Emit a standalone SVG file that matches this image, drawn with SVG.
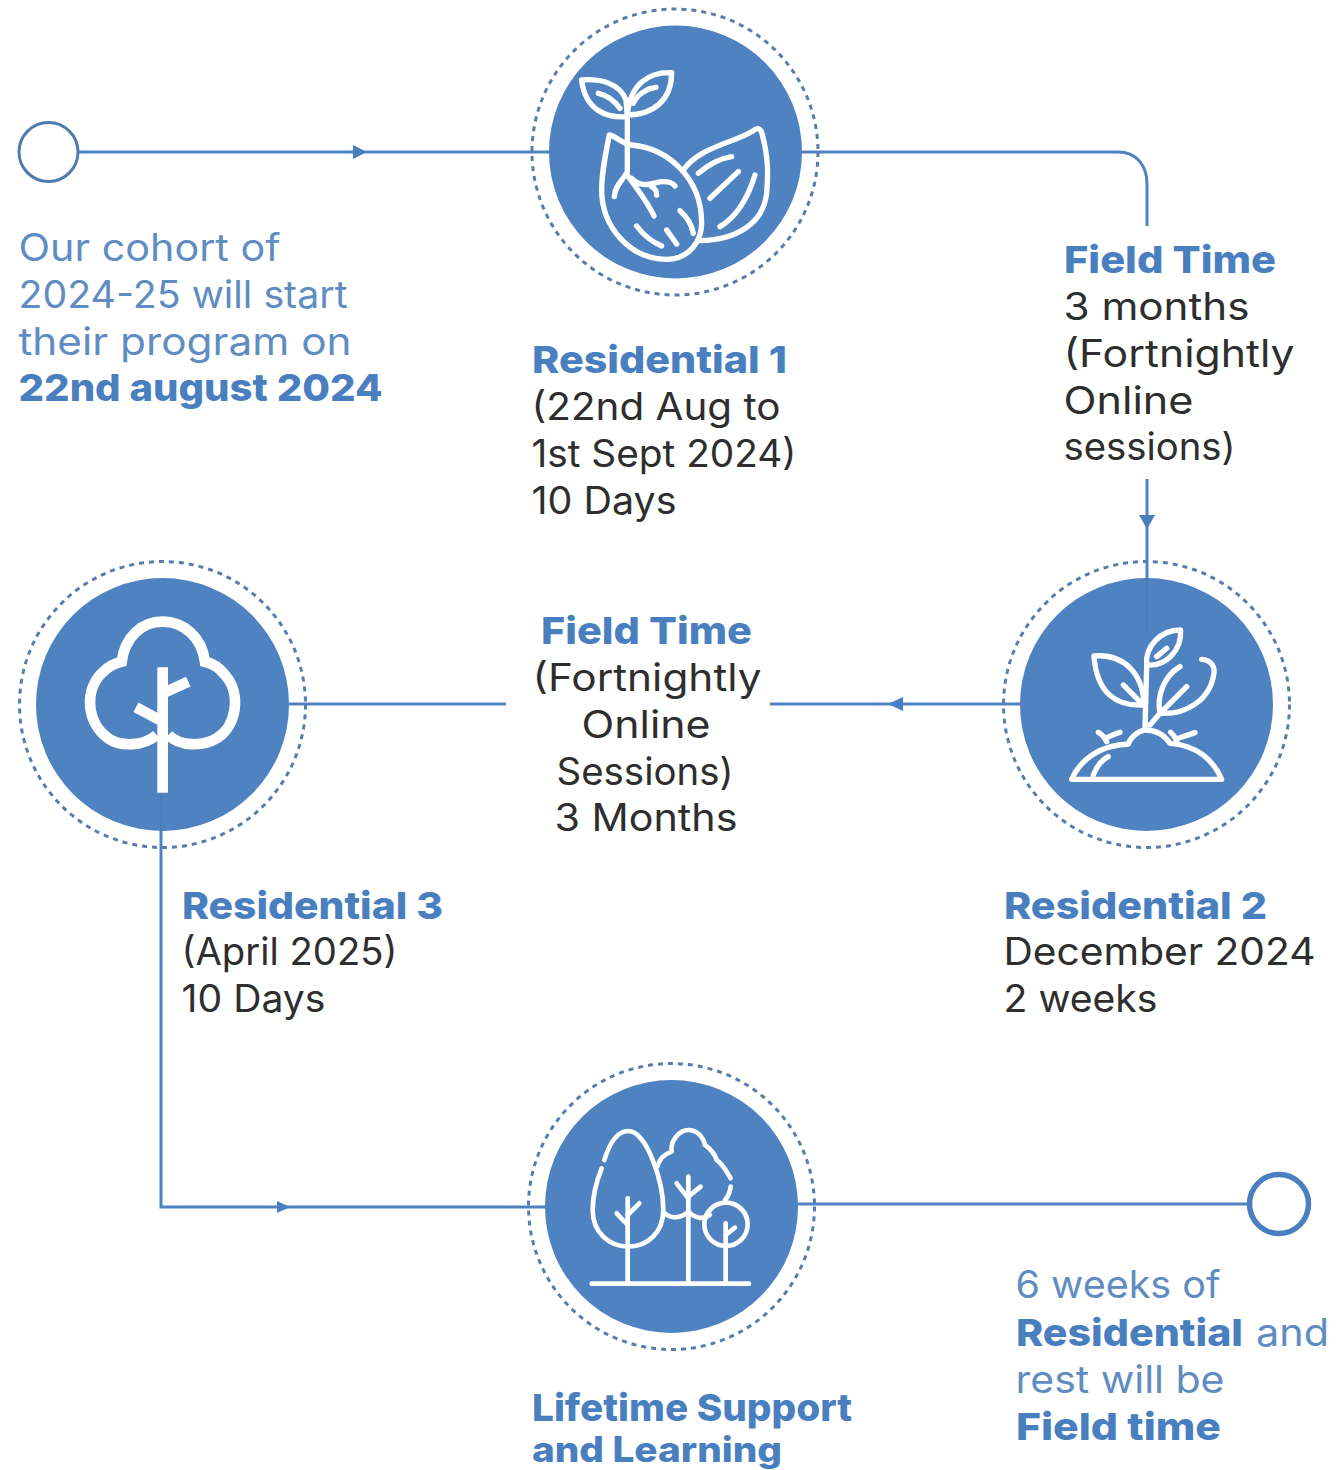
<svg xmlns="http://www.w3.org/2000/svg" width="1336" height="1470" viewBox="0 0 1336 1470">
<style>
text{font-family:"Inter","Noto Sans","Liberation Sans",sans-serif;font-size:37.5px;fill:#2e2e2e;font-weight:400}
.b{font-weight:800;fill:#4a7fbf}
.l{fill:#5f8dc2;font-weight:400}
.disc{fill:#4f82c0}
.ring{fill:none;stroke:#587cab;stroke-width:3;stroke-dasharray:5 5}
.ico{fill:none;stroke:#fff;stroke-width:16;stroke-linecap:round;stroke-linejoin:round}
.ln{fill:none;stroke:#4f82c0;stroke-width:3}
.ah{fill:#4a7fbf}
</style>
<rect width="1336" height="1470" fill="#fff"/>
<g id="start"><circle cx="48.5" cy="152" r="29.5" fill="#fff" stroke="#4f7bb0" stroke-width="3"/>
<text class="l" x="18.5" y="260.5" textLength="262" lengthAdjust="spacingAndGlyphs">Our cohort of</text>
<text class="l" x="18.5" y="307.5" textLength="329" lengthAdjust="spacingAndGlyphs">2024-25 will start</text>
<text class="l" x="18.5" y="354.5" textLength="333" lengthAdjust="spacingAndGlyphs">their program on</text>
<text class="b" x="18.5" y="401" textLength="364" lengthAdjust="spacingAndGlyphs">22nd august 2024</text>
</g>
<g id="residential-1"><circle class="ring" cx="675" cy="152" r="143"/><circle class="disc" cx="675.5" cy="152" r="126.5"/>
<g class="ico" transform="translate(520 0) scale(.3333)">
<path d="M185 240C240 235 300 250 318 300L322 350C260 355 195 330 185 240Z"/><path d="M455 218C390 215 330 250 322 345C400 345 455 300 455 218Z"/><path d="M235 280C260 285 285 305 300 325M408 262C380 265 350 285 340 310M322 345V510M322 515C310 540 285 555 283 590M322 525C345 560 380 600 402 648M335 535C370 570 400 545 430 545C445 545 460 550 465 558M395 560C405 565 410 575 410 585"/>
<path d="M268 405C255 470 245 520 245 570C245 680 330 778 440 778C510 778 545 720 545 670C545 530 440 445 335 435C300 430 285 405 268 405Z"/>
<path d="M350 678C370 705 395 725 425 738M440 690L470 732M480 632C500 650 515 670 520 700"/>
<path d="M490 510C540 440 640 430 700 392C712 382 722 385 726 400C745 470 745 520 740 580C730 670 650 720 540 722M535 520C565 495 600 475 635 470M570 595L655 515M600 680C650 650 685 590 705 525"/>
</g>
<text class="b" x="532" y="372.5" textLength="255" lengthAdjust="spacingAndGlyphs">Residential 1</text>
<text x="531.5" y="419.5" textLength="249" lengthAdjust="spacingAndGlyphs">(22nd Aug to</text>
<text x="531.5" y="466.5" textLength="265" lengthAdjust="spacingAndGlyphs">1st Sept 2024)</text>
<text x="531.5" y="513.5" textLength="145" lengthAdjust="spacingAndGlyphs">10 Days</text>
</g>
<g id="field-time-1">
<text class="b" x="1064" y="272.5" textLength="212" lengthAdjust="spacingAndGlyphs">Field Time</text>
<text x="1063.5" y="319.5" textLength="186" lengthAdjust="spacingAndGlyphs">3 months</text>
<text x="1063.5" y="366.5" textLength="231" lengthAdjust="spacingAndGlyphs">(Fortnightly</text>
<text x="1063.5" y="413.5" textLength="130" lengthAdjust="spacingAndGlyphs">Online</text>
<text x="1063.5" y="460" textLength="172" lengthAdjust="spacingAndGlyphs">sessions)</text>
</g>
<g id="residential-2"><circle class="ring" cx="1146.5" cy="704.5" r="143"/><circle class="disc" cx="1146.5" cy="704.5" r="126.5"/>
<g class="ico" transform="translate(990 550) scale(.3333)">
<path d="M245 688H695C670 630 620 585 540 580C520 550 490 540 465 540C440 545 420 565 415 582C330 585 270 630 245 688Z"/><path d="M310 675C320 650 335 630 355 620M350 575C345 565 335 552 325 547M345 565C360 560 375 550 390 547M560 572C555 560 548 552 542 547M565 565L615 548"/>
<path d="M465 535L470 350"/><path d="M470 345C465 290 510 240 572 240C575 300 530 350 470 345Z"/><path d="M500 320L530 295"/>
<path d="M462 465C380 470 320 430 312 318C400 310 460 370 462 465Z"/><path d="M400 405L455 460M480 525L510 490M570 350C520 380 500 440 510 490C590 495 660 450 672 370C675 345 660 330 635 328M510 490L590 410"/>
</g>
<text class="b" x="1004" y="918.5" textLength="263" lengthAdjust="spacingAndGlyphs">Residential 2</text>
<text x="1003.5" y="964.5" textLength="312" lengthAdjust="spacingAndGlyphs">December 2024</text>
<text x="1003.5" y="1011.5" textLength="154" lengthAdjust="spacingAndGlyphs">2 weeks</text>
</g>
<g id="field-time-2">
<text class="b" x="541" y="643.5" textLength="211" lengthAdjust="spacingAndGlyphs">Field Time</text>
<text x="532.5" y="690.5" textLength="229" lengthAdjust="spacingAndGlyphs">(Fortnightly</text>
<text x="581.5" y="737.5" textLength="129" lengthAdjust="spacingAndGlyphs">Online</text>
<text x="556.5" y="784.5" textLength="177" lengthAdjust="spacingAndGlyphs">Sessions)</text>
<text x="554.5" y="830.5" textLength="183" lengthAdjust="spacingAndGlyphs">3 Months</text>
</g>
<g id="residential-3"><circle class="ring" cx="162.5" cy="704.5" r="143"/><circle class="disc" cx="162.5" cy="704.5" r="126.5"/>
<g transform="translate(10 550) scale(.3333)">
<path fill="none" stroke="#fff" stroke-width="32" d="M440 555C400 590 330 590 295 565C230 520 220 420 280 365C295 350 315 340 335 335C345 260 395 215 458 215C520 215 575 260 585 335C610 340 630 355 645 375C695 430 680 530 620 565C580 590 510 590 475 555"/>
<path fill="none" stroke="#fff" stroke-width="32" d="M458 352V728M458 430L535 395M458 515L378 472"/>
</g>
<text class="b" x="182" y="918.5" textLength="261" lengthAdjust="spacingAndGlyphs">Residential 3</text>
<text x="181.5" y="964.5" textLength="216" lengthAdjust="spacingAndGlyphs">(April 2025)</text>
<text x="181.5" y="1011.5" textLength="144" lengthAdjust="spacingAndGlyphs">10 Days</text>
</g>
<g id="lifetime-support"><circle class="ring" cx="671.5" cy="1206.5" r="143"/><circle class="disc" cx="671.5" cy="1206.5" r="126.5"/>
<g class="ico" transform="translate(520 1055) scale(.3333)" style="stroke-width:14">
<path d="M215 686H687M323 430V686M505 365V686M617 505V686"/>
<path d="M245 340C225 390 218 430 218 465C218 530 265 575 325 575C385 575 430 530 430 465C430 380 380 228 325 228C295 228 270 260 253 315"/>
<path d="M323 510L290 475M323 480L358 445"/>
<path d="M412 335C420 305 440 295 455 290C450 255 480 225 505 225C530 225 550 245 555 270C575 285 585 300 590 315C610 330 620 350 632 370M430 470C450 495 485 490 505 470C525 490 550 495 570 480M632 395C630 410 625 425 615 435M505 430L470 385M505 425L542 395"/>
<circle cx="618" cy="508" r="65"/><path d="M617 540L645 518"/>
</g>
<text class="b" x="532" y="1420.5" textLength="320" lengthAdjust="spacingAndGlyphs">Lifetime Support</text>
<text class="b" x="532" y="1461.5" textLength="250" lengthAdjust="spacingAndGlyphs" style="font-size:35px">and Learning</text>
</g>
<g id="end"><circle cx="1279" cy="1204" r="29.5" fill="#fff" stroke="#4a7fbf" stroke-width="5.5"/>
<text class="l" x="1015.5" y="1297.5" textLength="205" lengthAdjust="spacingAndGlyphs">6 weeks of</text>
<text class="b" x="1016" y="1345.5" textLength="227" lengthAdjust="spacingAndGlyphs">Residential</text>
<text class="l" x="1256" y="1345.5" textLength="73" lengthAdjust="spacingAndGlyphs">and</text>
<text class="l" x="1015.5" y="1392.5" textLength="209" lengthAdjust="spacingAndGlyphs">rest will be</text>
<text class="b" x="1016" y="1439.5" textLength="205" lengthAdjust="spacingAndGlyphs">Field time</text>
</g>
<g id="connectors">
<path class="ln" d="M78 152H549"/>
<path class="ln" d="M802 152H1118C1136 152 1147 165 1147 184V226"/>
<path class="ln" d="M1147 479V578"/>
<path class="ln" d="M1147 578V630" style="stroke:#4a7cb9;stroke-width:2"/>
<path class="ln" d="M1021 704H770"/>
<path class="ln" d="M506 704H289"/>
<path class="ln" d="M161 796V831" style="stroke:#4a7cb9;stroke-width:2"/>
<path class="ln" d="M161 831V1207H546"/>
<path class="ln" d="M797 1204H1249"/>
<polygon class="ah" points="353,145 367,152 353,159"/>
<polygon class="ah" points="1139,515 1155,515 1147,529"/>
<polygon class="ah" points="903,697 903,711 888,704"/>
<polygon class="ah" points="277,1201 290,1207 277,1213"/>
</g>
</svg>
